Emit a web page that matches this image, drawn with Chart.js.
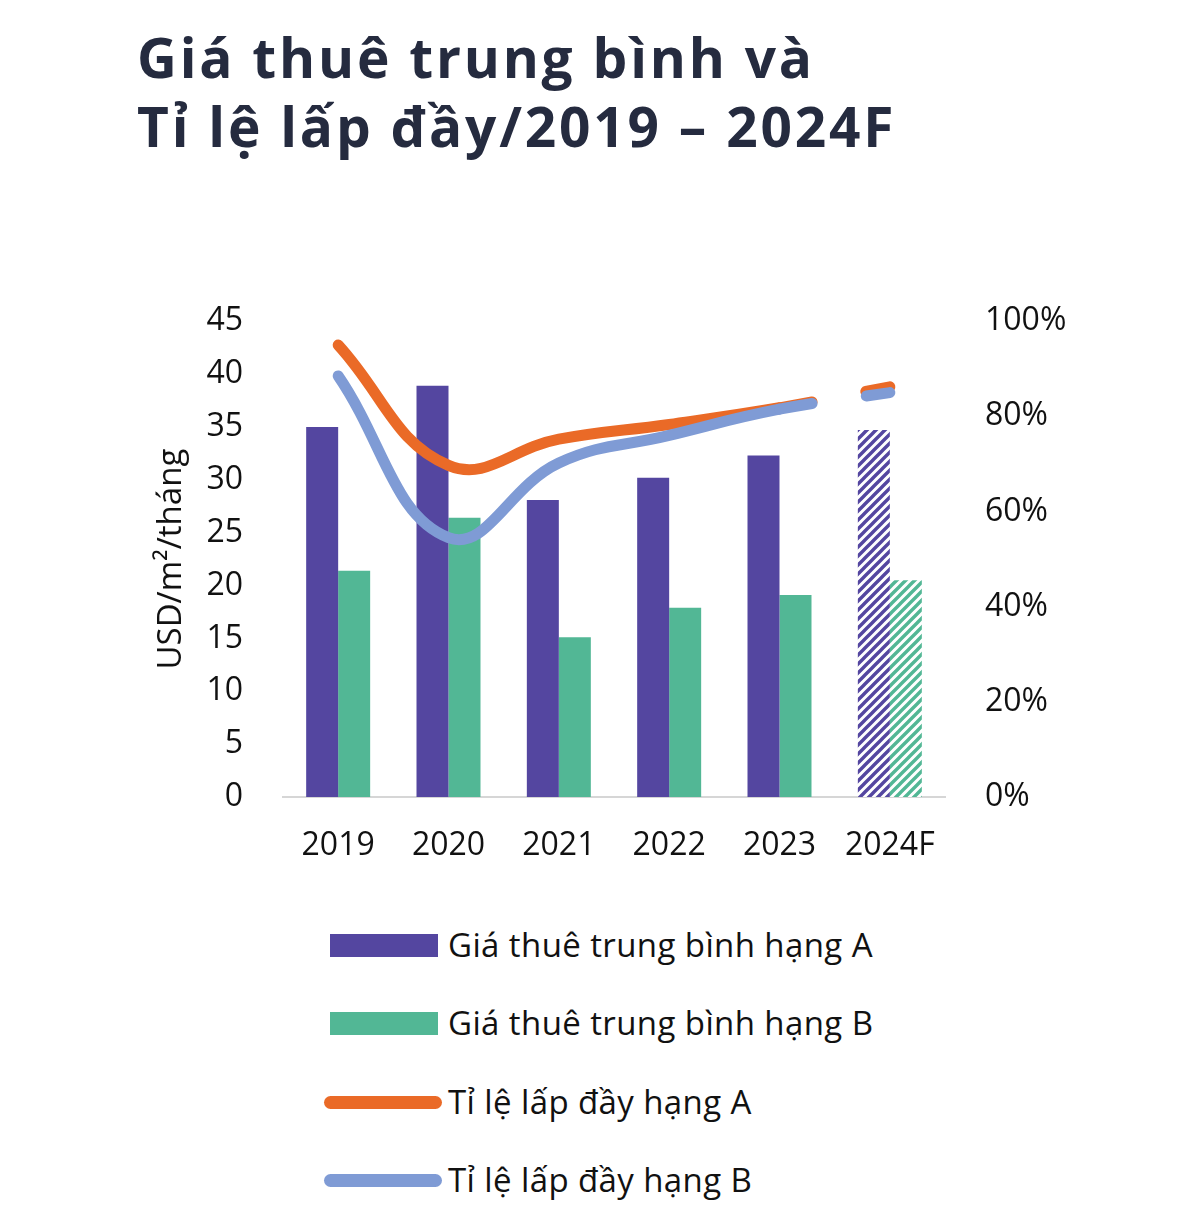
<!DOCTYPE html>
<html>
<head>
<meta charset="utf-8">
<script src="https://cdn.jsdelivr.net/npm/chart.js@4.4.1/dist/chart.umd.min.js"></script>
<style>
  body { margin:0; background:#fff; width:1200px; height:1224px; position:relative; overflow:hidden; font-family:'Open Sans', sans-serif; }
  #title { position:absolute; left:137px; top:22px; font-weight:700; font-size:55px; line-height:69px; letter-spacing:2.8px; color:#252b3f; white-space:nowrap; }
  #wrap { position:absolute; left:0; top:262px; width:1200px; height:618px; }
  #legend { position:absolute; left:0; top:0; }
  .item { position:absolute; left:0; height:40px; }
  .item span { position:absolute; left:448px; top:0; line-height:40px; font-size:33px; letter-spacing:0.4px; color:#111; white-space:nowrap; }
  .sw { position:absolute; }
</style>
</head>
<body>
<div id="title">Giá thuê trung bình và<br>Tỉ lệ lấp đầy/2019 – 2024F</div>
<div id="wrap"><canvas id="chart" width="1200" height="618"></canvas></div>
<div id="legend"></div>
<script>
const years = ['2019', '2020', '2021', '2022', '2023', '2024F'];
const rentA = [35.0, 38.9, 28.1, 30.2, 32.3, 34.7];
const rentB = [21.4, 26.4, 15.1, 17.9, 19.1, 20.5];
const occA = [0.950, 0.697, 0.752, 0.783, 0.818, 0.862];
const occB = [0.885, 0.545, 0.702, 0.760, 0.815, 0.850];
const leftTicks = [0, 5, 10, 15, 20, 25, 30, 35, 40, 45];
const rightTicks = [0, 0.2, 0.4, 0.6, 0.8, 1];

const purple = '#5446a0';
const green = '#52b795';
const orange = '#ea6a27';
const blue = '#7f9bd5';
const font = "'Open Sans', sans-serif";

// striped fill for the forecast year
function hatch(color) {
  const s = 9;
  const c = document.createElement('canvas');
  c.width = s; c.height = s;
  const g = c.getContext('2d');
  g.fillStyle = '#fff';
  g.fillRect(0, 0, s, s);
  g.strokeStyle = color;
  g.lineWidth = 3.4;
  g.beginPath();
  for (const k of [0, s, 2 * s]) {
    g.moveTo(k - s - 2, s + 2);
    g.lineTo(k + 2, -2);
  }
  g.stroke();
  return g.createPattern(c, 'repeat');
}

const lastIdx = years.length - 1;
const fillA = years.map((y, i) => i === lastIdx ? hatch(purple) : purple);
const fillB = years.map((y, i) => i === lastIdx ? hatch(green) : green);

// gap before the forecast point
const gapDash = ctx => ctx.p0DataIndex === lastIdx - 1 ? [33, 55, 400] : undefined;

const chart = new Chart(document.getElementById('chart'), {
  data: {
    labels: years,
    datasets: [
      { type: 'bar', label: 'Giá thuê trung bình hạng A', data: rentA, backgroundColor: fillA, yAxisID: 'y', order: 2,
        barPercentage: 1, categoryPercentage: 0.58, legendColor: purple },
      { type: 'bar', label: 'Giá thuê trung bình hạng B', data: rentB, backgroundColor: fillB, yAxisID: 'y', order: 3,
        barPercentage: 1, categoryPercentage: 0.58, legendColor: green },
      { type: 'line', label: 'Tỉ lệ lấp đầy hạng A', data: occA, borderColor: orange, borderWidth: 11, yAxisID: 'y1', order: 1,
        tension: 0.42, pointRadius: 0, borderCapStyle: 'round', borderJoinStyle: 'round', segment: { borderDash: gapDash }, legendColor: orange },
      { type: 'line', label: 'Tỉ lệ lấp đầy hạng B', data: occB, borderColor: blue, borderWidth: 11, yAxisID: 'y1', order: 0,
        tension: 0.42, pointRadius: 0, borderCapStyle: 'round', borderJoinStyle: 'round', segment: { borderDash: gapDash }, legendColor: blue }
    ]
  },
  options: {
    responsive: false,
    animation: false,
    devicePixelRatio: 1,
    layout: { padding: { top: 20, left: 0, right: 0, bottom: 0 } },
    plugins: { legend: { display: false }, tooltip: { enabled: false } },
    scales: {
      x: {
        offset: true,
        grid: { display: false, drawTicks: false },
        border: { display: true, color: '#d6d6d6', width: 2 },
        ticks: { font: { family: font, size: 32 }, color: '#111', padding: 30, maxRotation: 0 },
        afterFit: s => { s.height = 83; }
      },
      y: {
        position: 'left', min: 0, max: 45,
        afterBuildTicks: s => { s.ticks = leftTicks.map(v => ({ value: v })); },
        grid: { display: false, drawTicks: false },
        border: { display: false },
        ticks: { font: { family: font, size: 32 }, color: '#111', padding: 40 },
        title: { display: true, text: 'USD/m²/tháng', font: { family: font, size: 33 }, color: '#111', padding: { top: 152, bottom: 0 } },
        afterFit: s => { s.width = 283; }
      },
      y1: {
        position: 'right', min: 0, max: 1,
        afterBuildTicks: s => { s.ticks = rightTicks.map(v => ({ value: v })); },
        grid: { display: false, drawTicks: false },
        border: { display: false },
        ticks: { font: { family: font, size: 32 }, color: '#111', padding: 40, callback: v => Math.round(v * 100) + '%' },
        afterFit: s => { s.width = 255; }
      }
    }
  }
});

// legend: one column under the chart
const legend = document.getElementById('legend');
const legendTop = [925, 1003, 1082, 1160];
chart.data.datasets.forEach((ds, i) => {
  const item = document.createElement('div');
  item.className = 'item';
  item.style.top = legendTop[i] + 'px';
  const sw = document.createElement('div');
  sw.className = 'sw';
  if (ds.type === 'bar') {
    Object.assign(sw.style, { left: '330px', top: '9px', width: '108px', height: '23px', background: ds.legendColor });
  } else {
    Object.assign(sw.style, { left: '324px', top: '14px', width: '118px', height: '13px', borderRadius: '7px', background: ds.legendColor });
  }
  const tx = document.createElement('span');
  tx.textContent = ds.label;
  item.appendChild(sw);
  item.appendChild(tx);
  legend.appendChild(item);
});
</script>
</body>
</html>
